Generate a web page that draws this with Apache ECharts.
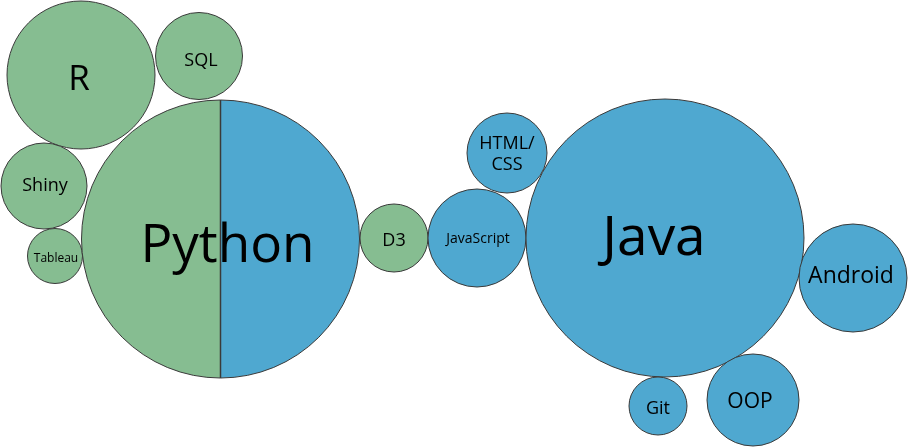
<!DOCTYPE html>
<html>
<head>
<meta charset="utf-8">
<script src="https://cdn.jsdelivr.net/npm/echarts@6/dist/echarts.min.js"></script>
<style>
html,body{margin:0;padding:0;background:#fff;}
#chart{width:908px;height:447px;}
</style>
</head>
<body>
<div id="chart"></div>
<script>
// Skill bubbles: label, centre (x, y) and radius in chart units, group
const names  = ['R', 'SQL', 'Shiny', 'Tableau', 'Python', 'D3', 'JavaScript', 'HTML/\nCSS', 'Java', 'Android', 'Git', 'OOP'];
const xs     = [81, 199, 44, 55, 220.5, 394, 477, 507, 665, 853, 658, 753];
const ys     = [75, 56, 186, 256, 239, 238, 238, 153, 238, 278, 406, 400];
const radii  = [74, 43.5, 43, 27.5, 139, 34, 49, 40, 139, 54, 29, 46];
const groups = ['green', 'green', 'green', 'green', 'both', 'green', 'blue', 'blue', 'blue', 'blue', 'blue', 'blue'];

// styles
const colors = { green: '#86bd91', blue: '#4fa8d0' };
const fontSizes = { 'R': 35, 'SQL': 18, 'Shiny': 18, 'Tableau': 12, 'Python': 53, 'D3': 18, 'JavaScript': 14, 'HTML/\nCSS': 18, 'Java': 55, 'Android': 23, 'Git': 18, 'OOP': 21 };
// label nudges in pixels [dx, dy]
const labelNudge = { 'R': [-2, 5], 'SQL': [2, 4.7], 'Shiny': [1, 0], 'Tableau': [1, 2.7], 'Python': [7, 7.5], 'D3': [0, 2.7], 'JavaScript': [1, 0.8], 'HTML/\nCSS': [0, 1], 'Java': [-11, 1], 'Android': [-2, -1.7], 'Git': [0, 3.3], 'OOP': [-3, 1.7] };
const FONT = '"Open Sans", "Noto Sans", sans-serif';

const data = names.map((n, i) => [xs[i], ys[i], radii[i], i]);

const chart = echarts.init(document.getElementById('chart'), null, { renderer: 'canvas' });
chart.setOption({
  animation: false,
  backgroundColor: '#ffffff',
  grid: { left: 0, right: 0, top: 0, bottom: 0 },
  xAxis: { type: 'value', min: 0, max: 908, show: false },
  yAxis: { type: 'value', min: 0, max: 447, inverse: true, show: false },
  series: [{
    type: 'custom',
    coordinateSystem: 'cartesian2d',
    data: data,
    renderItem: function (params, api) {
      const x = api.value(0), y = api.value(1), r = api.value(2), idx = api.value(3);
      const c = api.coord([x, y]);
      const rp = api.size([r, r])[0];
      const name = names[idx];
      const g = groups[idx];
      const children = [];
      if (g === 'both') {
        children.push({ type: 'sector', shape: { cx: c[0], cy: c[1], r0: 0, r: rp, startAngle: Math.PI / 2, endAngle: Math.PI * 1.5, clockwise: true }, style: { fill: colors.green } });
        children.push({ type: 'sector', shape: { cx: c[0], cy: c[1], r0: 0, r: rp, startAngle: -Math.PI / 2, endAngle: Math.PI / 2, clockwise: true }, style: { fill: colors.blue } });
        children.push({ type: 'line', shape: { x1: c[0], y1: c[1] - rp, x2: c[0], y2: c[1] + rp }, style: { stroke: '#3a3a3a', lineWidth: 1.5 } });
        children.push({ type: 'circle', shape: { cx: c[0], cy: c[1], r: rp }, style: { fill: null, stroke: '#3a3a3a', lineWidth: 1 } });
      } else {
        children.push({ type: 'circle', shape: { cx: c[0], cy: c[1], r: rp }, style: { fill: colors[g], stroke: '#3a3a3a', lineWidth: 1 } });
      }
      const fs = fontSizes[name];
      const nd = labelNudge[name];
      children.push({
        type: 'text',
        style: {
          text: name, x: c[0] + nd[0], y: c[1] + nd[1], fill: '#000',
          font: fs + 'px ' + FONT,
          align: 'center', verticalAlign: 'middle',
          lineHeight: Math.round(fs * 1.18)
        }
      });
      return { type: 'group', children: children };
    }
  }]
});
</script>
</body>
</html>
